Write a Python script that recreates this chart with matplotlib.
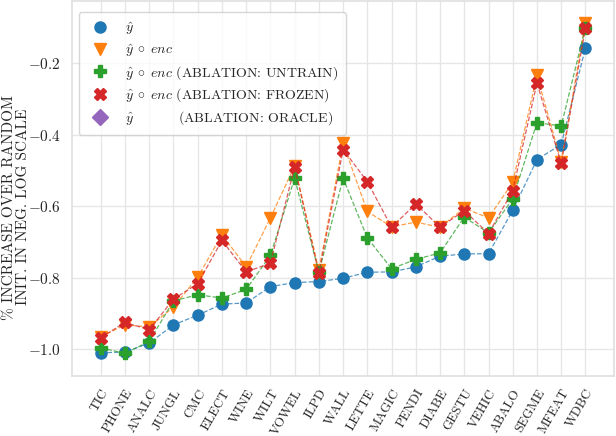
import numpy as np
import matplotlib
matplotlib.use("Agg")
import matplotlib.pyplot as plt
import seaborn as sns

datasets = ["TIC", "PHONE", "ANALC", "JUNGL", "CMC", "ELECT", "WINE", "WILT", "VOWEL", "ILPD",
            "WALL", "LETTE", "MAGIC", "PENDI", "DIABE", "GESTU", "VEHIC", "ABALO", "SEGME", "MFEAT", "WDBC"]

y_hat = [-1.010, -1.008, -0.983, -0.932, -0.905, -0.874, -0.871, -0.825, -0.814, -0.811,
         -0.802, -0.785, -0.784, -0.770, -0.740, -0.734, -0.733, -0.612, -0.470, -0.428, -0.158]
y_enc = [-0.965, -0.932, -0.938, -0.882, -0.799, -0.680, -0.770, -0.633, -0.488, -0.779,
         -0.425, -0.615, -0.658, -0.645, -0.659, -0.606, -0.633, -0.534, -0.235, -0.476, -0.087]
y_untrain = [-0.996, -1.012, -0.978, -0.865, -0.848, -0.857, -0.833, -0.738, -0.522, -0.785,
             -0.522, -0.689, -0.775, -0.749, -0.731, -0.631, -0.675, -0.580, -0.367, -0.376, -0.101]
y_frozen = [-0.968, -0.925, -0.946, -0.860, -0.817, -0.696, -0.784, -0.760, -0.490, -0.788,
            -0.442, -0.532, -0.659, -0.594, -0.659, -0.613, -0.677, -0.557, -0.256, -0.481, -0.103]
y_oracle = []  # keine Punkte, nur Legende

sns.set_theme(style="whitegrid")
plt.rcParams["font.family"] = ["cmr10", "DejaVu Serif"]
plt.rcParams["mathtext.fontset"] = "cm"
plt.rcParams["axes.formatter.use_mathtext"] = True
plt.rcParams["grid.color"] = "0.9"
plt.rcParams["axes.edgecolor"] = "0.88"

fig = plt.figure(figsize=(6.16, 4.36), dpi=100)
ax = fig.add_axes([0.1164, 0.1376, 0.8804, 0.860])

x = np.arange(len(datasets))
enc = r"$\hat{y}\;\circ\;enc$"
series = [
    (y_hat, "o", "tab:blue", r"$\hat{y}$", 8),
    (y_enc, "v", "tab:orange", enc, 9),
    (y_untrain, "P", "tab:green", enc + " (ABLATION: UNTRAIN)", 9),
    (y_frozen, "X", "tab:red", enc + " (ABLATION: FROZEN)", 9),
]
handles = []
for vals, m, c, lab, ms in series:
    ax.plot(x, vals, ls="--", lw=0.9, color=c, alpha=0.75)
    ax.plot(x, vals, ls="none", marker=m, ms=ms, color=c, mec=c)
    h, = ax.plot([], [], ls="none", marker=m, ms=ms, color=c, label=lab)
    handles.append(h)
h, = ax.plot(x[:len(y_oracle)], y_oracle, ls="none", marker="D", ms=8, color="tab:purple",
             label=r"$\hat{y}$" + "          (ABLATION: ORACLE)")
handles.append(h)

ax.set_xlim(-1.2, 21.18)
ax.set_ylim(-1.075, -0.027)
ax.set_yticks([-1.0, -0.8, -0.6, -0.4, -0.2])
ax.set_xticks(x)
ax.set_xticklabels(datasets, rotation=60, ha="right", rotation_mode="anchor", fontsize=9.5)
ax.tick_params(axis="x", pad=2)
ax.tick_params(axis="y", labelsize=11, pad=2)
ax.set_ylabel("% INCREASE OVER RANDOM\nINIT. IN NEG. LOG SCALE", fontsize=11, linespacing=1.0)
ax.yaxis.set_label_coords(-0.076, 0.45)

ax.legend(handles=handles, loc="upper left", fontsize=10, labelspacing=0.36,
          handletextpad=0.8, borderpad=0.55, bbox_to_anchor=(0.0, 0.988))

fig.savefig("out.png", dpi=100)
